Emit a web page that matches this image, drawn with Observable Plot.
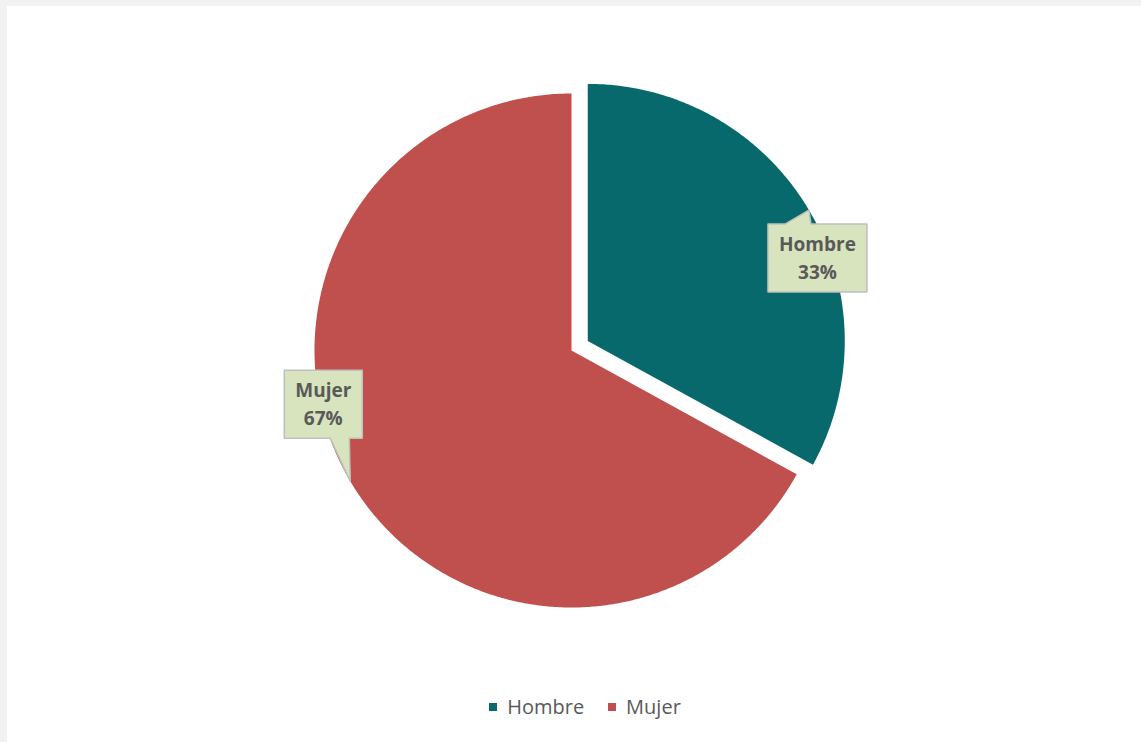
<!DOCTYPE html>
<html><head><meta charset="utf-8">
<script src="https://cdn.jsdelivr.net/npm/d3@7"></script>
<script src="https://cdn.jsdelivr.net/npm/@observablehq/plot@0.6"></script>
<style>
html,body{margin:0;padding:0;background:#f2f2f2;overflow:hidden;}
#panel{position:absolute;left:7px;top:6px;width:1134px;height:736px;background:#fff;}
#chart{position:absolute;left:0;top:0;}
#legend{position:absolute;left:11px;top:684px;width:1134px;display:flex;justify-content:center;}
#legend [class$="-swatch"]{margin-right:24px !important;}
#legend [class$="-swatch"]:last-child{margin-right:0 !important;}
#legend [class$="-swatch"] svg{margin-right:10px !important;}
</style></head><body>
<div id="panel"><div id="chart"></div><div id="legend"></div></div>
<script>
// ---- data ----
const categories = ["Hombre", "Mujer"];
const shares = [33, 67];
const shareLabels = ["33%", "67%"];
const colors = ["#07696c", "#c0504d"];

// ---- layout ----
const W = 1134, H = 680;
const cx = 564, cy = 344, R = 257;          // pie centre & radius in px
const explode = [0.0735, 0];                // in radius units
// callout geometry relative to tip, in px
const callouts = [
  {box: [-41, 58, 14, 82], ptr: [-24, 2], side: "top"},
  {box: [-66, 12, -111, -43], ptr: [-20, -1], side: "bottom"}
];

const rows = categories.map((c, i) => ({category: c, share: shares[i], label: shareLabels[i], color: colors[i], explode: explode[i], callout: callouts[i]}));
const arcs = d3.pie().sort(null).value(d => d.share).startAngle(0).endAngle(2 * Math.PI)(rows);

const slicePts = [];
const calloutPts = [];
const textPts = [];
arcs.forEach(a => {
  const d = a.data;
  const mid = (a.startAngle + a.endAngle) / 2;
  const ox = d.explode * Math.sin(mid), oy = d.explode * Math.cos(mid);
  slicePts.push({k: d.category, x: ox, y: oy});
  const n = Math.ceil((a.endAngle - a.startAngle) / (Math.PI / 360));
  for (let j = 0; j <= n; j++) {
    const t = a.startAngle + (a.endAngle - a.startAngle) * j / n;
    slicePts.push({k: d.category, x: ox + Math.sin(t), y: oy + Math.cos(t)});
  }
  slicePts.push({k: d.category, x: ox, y: oy});
  const tx = ox + Math.sin(mid), ty = oy + Math.cos(mid);
  const [l, r, t, b] = d.callout.box.map(v => v / R);
  const [p1, p2] = d.callout.ptr.map(v => v / R);
  let poly;
  if (d.callout.side === "top") {
    poly = [[l, t], [p1, t], [0, 0], [p2, t], [r, t], [r, b], [l, b], [l, t]];
  } else {
    poly = [[l, t], [r, t], [r, b], [p2, b], [0, 0], [p1, b], [l, b], [l, t]];
  }
  poly.forEach(([px, py]) => calloutPts.push({k: d.category, x: tx + px, y: ty - py}));
  textPts.push({text: d.category + "\n" + d.label, x: tx + (l + r) / 2, y: ty - (t + b) / 2 + 2 / R});
});

const chart = Plot.plot({
  width: W, height: H,
  margin: 0,
  x: {domain: [-cx / R, (W - cx) / R], axis: null},
  y: {domain: [-(H - cy) / R, cy / R], axis: null},
  color: {domain: categories, range: colors},
  style: {background: "transparent"},
  marks: [
    Plot.line(slicePts, {x: "x", y: "y", z: "k", fill: "k", stroke: "none", curve: "linear"}),
    Plot.line(calloutPts, {x: "x", y: "y", z: "k", fill: "#d7e4bd", stroke: "#bfbfbf", strokeWidth: 1.5, strokeLinejoin: "miter", curve: "linear"}),
    Plot.text(textPts, {x: "x", y: "y", text: "text", fontSize: 19, fontWeight: "bold", fill: "#595959", fontFamily: "Open Sans", lineHeight: 1.45})
  ]
});
document.getElementById("chart").appendChild(chart);

const legend = Plot.legend({
  color: {domain: categories, range: colors},
  legend: "swatches",
  swatchSize: 8,
  style: {fontSize: "20px", fontFamily: "Open Sans", color: "#595959"}
});
document.getElementById("legend").appendChild(legend);
</script>
</body></html>
